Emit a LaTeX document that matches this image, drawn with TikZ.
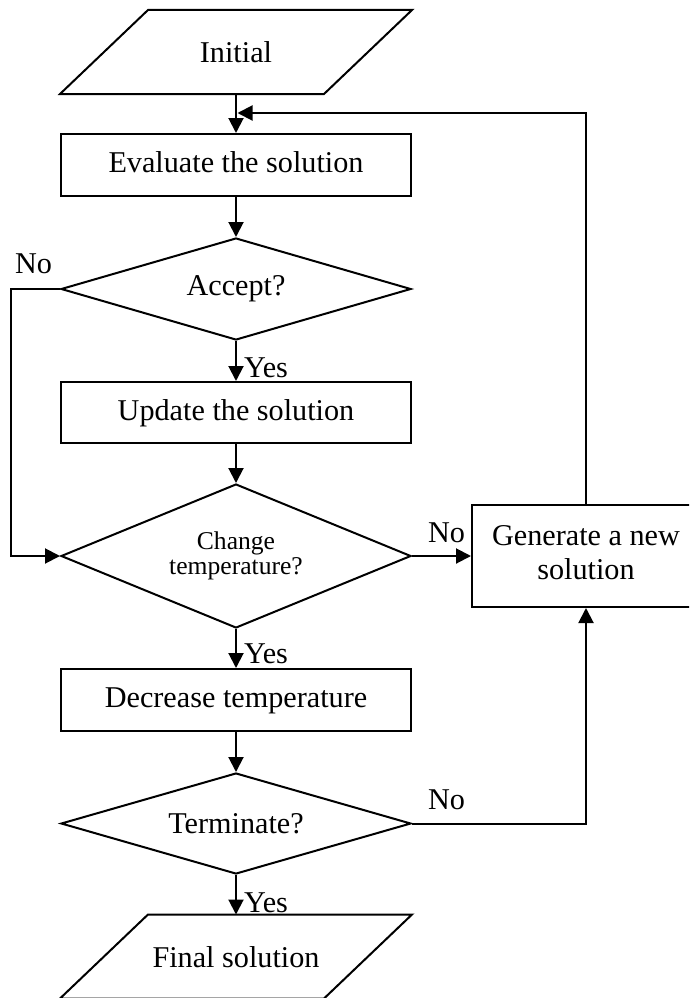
\documentclass[tikz,border=0pt]{standalone}
\usepackage{fontspec}
\setmainfont{Liberation Serif}
\usetikzlibrary{arrows.meta,shapes.geometric,calc}
\begin{document}
\begin{tikzpicture}[x=1pt,y=-1pt,
  line width=2pt,
  every node/.style={font=\fontsize{30.2}{34}\selectfont},
  stepbox/.style={draw,rectangle,minimum width=350pt,minimum height=62pt,
    inner sep=0pt,text height=21pt,text depth=6pt},
  decision/.style={draw,diamond,inner sep=0pt,aspect=3,minimum width=350pt},
  para/.style={minimum width=262pt,minimum height=82pt,inner sep=0pt,
    text height=27pt,text depth=5pt},
  arr/.style={-{Triangle[length=15pt,width=15pt]}},
  tag/.style={anchor=base west,inner sep=0pt}
]
\clip (0,0) rectangle (689,998);
\fill[white] (0,0) rectangle (689,998);

% input / output parallelograms
\node[para] (init) at (236,52) {Initial};
\draw ([xshift=44pt]init.north west) -- ([xshift=44pt]init.north east)
  -- ([xshift=-44pt]init.south east) -- ([xshift=-44pt]init.south west) -- cycle;

\node[para] (final) at (236,956.5) {Final solution};
\draw ([xshift=44pt]final.north west) -- ([xshift=44pt]final.north east)
  -- ([xshift=-44pt]final.south east) -- ([xshift=-44pt]final.south west) -- cycle;

% process boxes
\node[stepbox] (eval) at (236,165) {Evaluate the solution};
\node[stepbox,minimum height=61pt] (update) at (236,412.5) {Update the solution};
\node[stepbox] (decrease) at (236,700) {Decrease temperature};
\node[draw,minimum width=228pt,minimum height=102pt,inner sep=0pt,
  label={[align=center,yshift=3pt]center:Generate a new\\solution}] (gen) at (586,556) {};

% decisions
\node[decision,minimum height=102pt] (accept) at (236,289) {Accept?};
\node[decision,minimum height=144pt,align=center,
  font=\fontsize{25.6}{25}\selectfont] (change) at (236,556) {Change\\temperature?};
\node[decision,minimum height=101pt] (term) at (236,823.5) {Terminate?};

% main flow
\draw[arr] (init.south) -- (eval.north);
\draw[arr] (eval.south) -- (accept.north);
\draw[arr] (accept.south) -- (update.north);
\draw[arr] (update.south) -- (change.north);
\draw[arr] (change.south) -- (decrease.north);
\draw[arr] (decrease.south) -- (term.north);
\draw[arr] (term.south) -- (final.north);

% branches
\draw[arr] (accept.west) -- ++(-49,0) |- (change.west);
\draw[arr] (change.east) -- (gen.west);
\draw[arr] (term.east) -| (gen.south);
\coordinate (fb) at (237.5,113);
\draw[arr] (gen.north) |- (fb);

% branch labels
\node[tag] (yes1) at (243,377) {Yes};
\node[tag] (yes2) at (243,663) {Yes};
\node[tag] (yes3) at (243,912) {Yes};
\node[tag] (no1) at (14,273) {No};
\node[tag] (no2) at (427,542) {No};
\node[tag] (no3) at (427,809) {No};
\end{tikzpicture}
\end{document}
